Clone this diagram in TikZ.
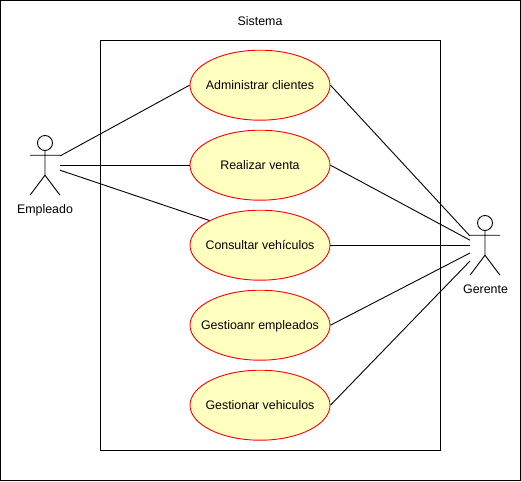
\documentclass[tikz,border=0pt]{standalone}
\usepackage{fontspec}
\setmainfont{Liberation Sans}
\usetikzlibrary{shapes.geometric}
\definecolor{ucfill}{HTML}{FFFFC0}
\definecolor{ucline}{HTML}{FF0000}
\newcommand{\uctext}[1]{\makebox[0pt]{\rule[-3pt]{0pt}{15pt}#1}}
\tikzset{
  x=1pt,y=-1pt,
  usecase/.style={ellipse,draw=ucline,fill=ucfill,line width=0.9pt,minimum width=140pt,minimum height=70pt,inner sep=0pt,font=\fontsize{12.4}{14}\selectfont,text=black},
  lbl/.style={font=\fontsize{12.4}{14}\selectfont,text=black,inner sep=0pt},
  link/.style={draw=black,line width=0.9pt},
  stick/.style={draw=black,line width=0.9pt},
  frame/.style={draw=black,line width=0.9pt}
}
\begin{document}
\begin{tikzpicture}
\useasboundingbox (0,0) rectangle (521,481);
\fill[white] (0,0) rectangle (521,481);
\draw[frame] (0.5,0.5) rectangle (520.5,480.5);
\node[frame,draw,minimum width=340pt,minimum height=410pt,inner sep=0pt,anchor=north west] (sys) at (100,40.2) {};
\node[lbl] (title) at (260,21) {Sistema};
\node[usecase] (u1) at (260,85.2) {\uctext{Administrar clientes}};
\node[usecase] (u2) at (260,165.2) {\uctext{Realizar venta}};
\node[usecase] (u3) at (260,245.2) {\uctext{Consultar vehículos}};
\node[usecase] (u4) at (260,325.2) {\uctext{Gestioanr empleados}};
\node[usecase] (u5) at (260,405.2) {\uctext{Gestionar vehiculos}};
% Empleado
\draw[stick] (45,143) circle (7.5);
\draw[stick] (45,150.5) -- (45,175.2) (30,155.2) -- (60,155.2) (30,195.2) -- (45,175.2) -- (60,195.2);
\node[lbl] (empleado) at (45,210) {Empleado};
% Gerente
\draw[stick] (485,223) circle (7.5);
\draw[stick] (485,230.5) -- (485,255.2) (470,235.2) -- (500,235.2) (470,275.2) -- (485,255.2) -- (500,275.2);
\node[lbl] (gerente) at (485.5,289.5) {Gerente};
% connector ports
\coordinate (e1) at (60,156);
\coordinate (e2) at (60,165.2);
\coordinate (e3) at (60,170.2);
\coordinate (g1) at (470,236);
\coordinate (g2) at (470,240.2);
\coordinate (g3) at (470,245.2);
\coordinate (g4) at (470,253);
\coordinate (g5) at (470,261);
\draw[link] (e1) -- (u1.west);
\draw[link] (e2) -- (u2.west);
\draw[link] (e3) -- (u3.154);
\draw[link] (u1.east) -- (g1);
\draw[link] (u2.east) -- (g2);
\draw[link] (u3.east) -- (g3);
\draw[link] (u4.east) -- (g4);
\draw[link] (u5.east) -- (g5);
\end{tikzpicture}
\end{document}
